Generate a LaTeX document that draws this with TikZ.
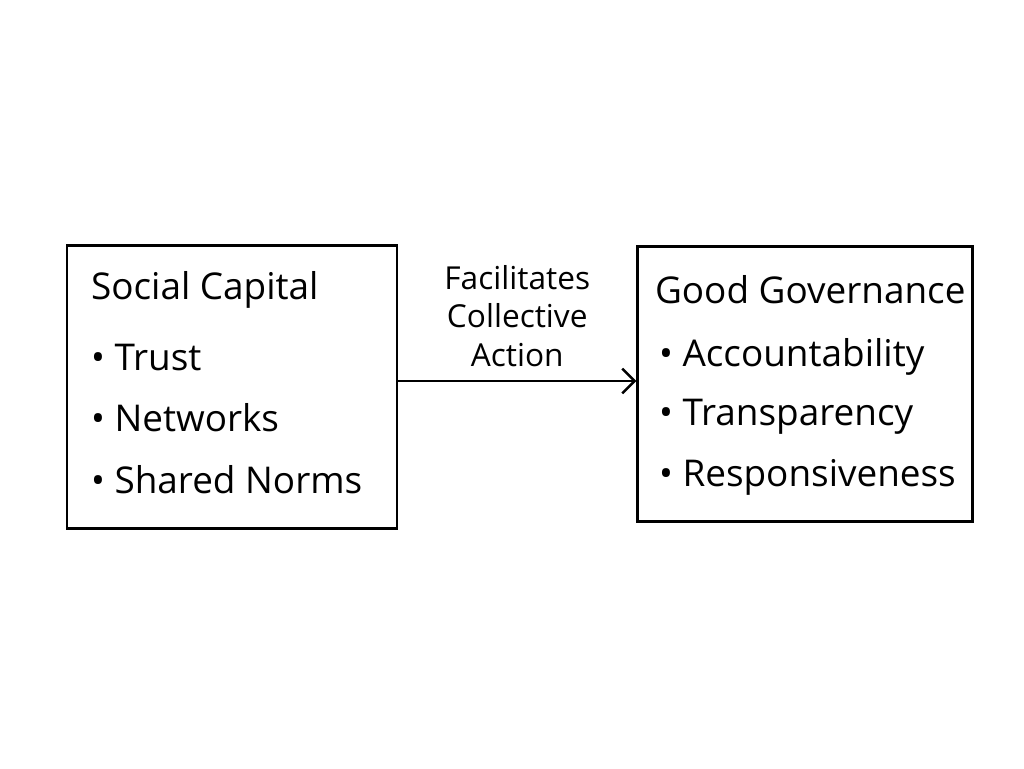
\documentclass[tikz,border=0pt]{standalone}
\usepackage{fontspec}
\setmainfont{Open Sans}
\usetikzlibrary{positioning,arrows.meta}

\begin{document}
\begin{tikzpicture}[x=0.02cm,y=-0.02cm,line width=1.4pt]
\useasboundingbox (0,0) rectangle (1024,768);

    \tikzset{panel/.style={draw=black,minimum width=330*0.02cm,minimum height=283*0.02cm}};
    \tikzset{title/.style={anchor=west,font=\fontsize{21}{24}\selectfont}};
    \tikzset{item/.style={anchor=west,font=\fontsize{21}{24}\selectfont}};

% left box
\node[panel] (capital) at (232,387) {};
\node[title] (capitaltitle) at (84,290) {Social Capital};
\node[item] (trust) at (84,358) {• Trust};
\node[item] (networks) at (84,418) {• Networks};
\node[item] (norms) at (84,480) {• Shared Norms};

% right box
\node[panel,minimum width=335*0.02cm,minimum height=275*0.02cm] (governance) at (805,384) {};
\node[title] (govtitle) at (648,290) {Good Governance};
\node[item] (account) at (652,357) {• Accountability};
\node[item] (transp) at (652,417) {• Transparency};
\node[item] (resp) at (652,477) {• Responsiveness};

% link
\draw[-{Straight Barb[length=7pt,width=14pt]}] (capital.east |- 0,381) -- (governance.west |- 0,381)
    node[midway,above=4pt,align=center,font=\fontsize{18}{22}\selectfont] (label) {Facilitates\\Collective\\Action};
\end{tikzpicture}
\end{document}
